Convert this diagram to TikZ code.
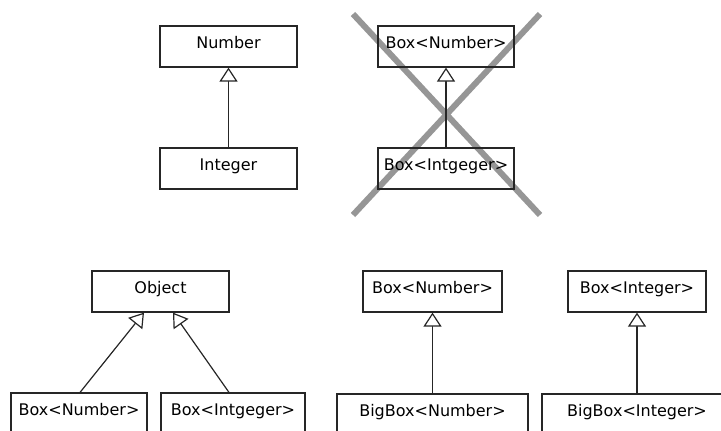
\documentclass[tikz,border=0pt]{standalone}
\usepackage{fontspec}
\setmainfont{DejaVu Sans}
\usetikzlibrary{arrows.meta,calc}
\definecolor{xgray}{RGB}{150,150,150}
\begin{document}
\begin{tikzpicture}[x=0.75pt,y=-0.75pt,
  cls/.style={draw=black!85,line width=0.9pt,inner xsep=0pt,inner ysep=0pt,
    text height=22*0.75pt,text depth=19*0.75pt,font=\fontsize{12}{14}\selectfont},
  inh/.style={draw=black!85,line width=0.9pt,
    -{Triangle[open,length=14*0.75pt,width=18*0.75pt,fill=white]}},
  cross/.style={draw=xgray,line width=4.5pt}]
\clip (0,0) rectangle (721,430);
\useasboundingbox (0,0) rectangle (721,430);
% gray cross (under the crossed boxes)
\coordinate (xa) at (353,14);
\coordinate (xb) at (540,215);
\coordinate (xc) at (540,14);
\coordinate (xd) at (353,215);
\draw[cross] (xa) -- (xb);
\draw[cross] (xc) -- (xd);
% top left
\node[cls,minimum width=137*0.75pt] (num) at (228.5,46.5) {Number};
\node[cls,minimum width=137*0.75pt] (int) at (228.5,168.5) {Integer};
\draw[inh] (int) -- (num);
% top right (crossed)
\node[cls,minimum width=136*0.75pt] (bn) at (446,46.5) {Box<Number>};
\node[cls,minimum width=136*0.75pt] (bi) at (446,168.5) {Box<Intgeger>};
\draw[inh] (bi) -- (bn);
% bottom left
\node[cls,minimum width=137*0.75pt] (obj) at (160.5,291.5) {Object};
\node[cls,minimum width=136*0.75pt] (lbn) at (79,413.5) {Box<Number>};
\node[cls,minimum width=144*0.75pt] (lbi) at (233,413.5) {Box<Intgeger>};
\draw[inh] ($(lbn.north)+(1,0)$) -- ($(obj.south)+(-16.5,0)$);
\draw[inh] ($(lbi.north)+(-4,0)$) -- ($(obj.south)+(12.5,0)$);
% bottom middle
\node[cls,minimum width=139*0.75pt] (rbn) at (432.5,291.5) {Box<Number>};
\node[cls,minimum width=191*0.75pt] (bbn) at (432.5,414.5) {BigBox<Number>};
\draw[inh] (bbn) -- (rbn);
% bottom right
\node[cls,minimum width=138*0.75pt] (rbi) at (637,291.5) {Box<Integer>};
\node[cls,minimum width=190*0.75pt] (bbi) at (637,414.5) {BigBox<Integer>};
\draw[inh] (bbi) -- (rbi);
\end{tikzpicture}
\end{document}
